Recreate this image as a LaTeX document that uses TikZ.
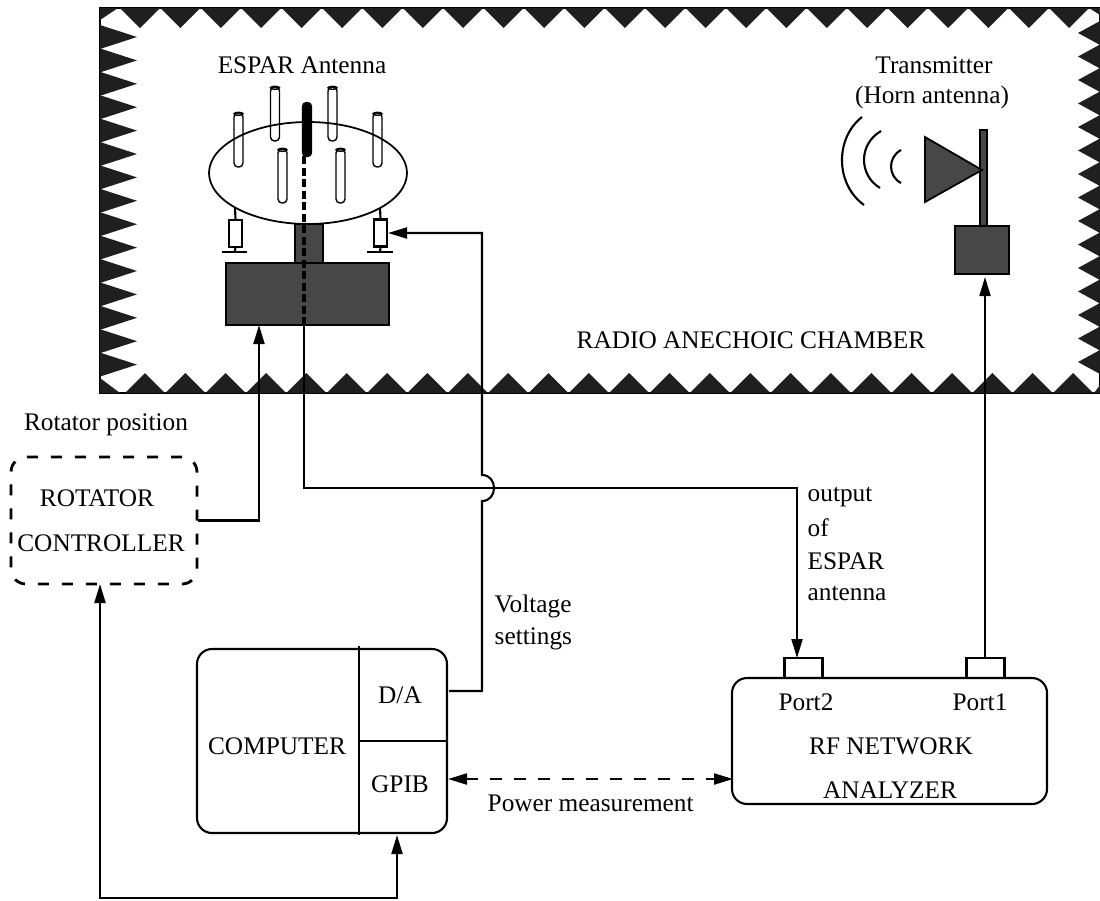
\documentclass[tikz,border=0pt]{standalone}
\usepackage{fontspec}
\setmainfont{Liberation Serif}
\usetikzlibrary{shapes.geometric,arrows.meta,calc}

\begin{document}
\begin{tikzpicture}[
    y=-1cm,
    every node/.style={inner sep=0pt, font=\fontsize{7.2}{9}\selectfont},
    rbox/.style={rectangle, draw=black, line width=0.6pt, rounded corners=0.15cm},
    dashbox/.style={rbox, line width=0.8pt, dash pattern=on 0.11cm off 0.13cm},
    port/.style={rectangle, draw=black, line width=0.6pt, minimum width=0.38cm, minimum height=0.2cm},
    dark/.style={rectangle, draw=black, fill=black!72, line width=0.5pt},
    resistor/.style={rectangle, draw=black, line width=0.6pt, minimum width=0.13cm, minimum height=0.27cm},
    rodbox/.style={rectangle, draw=black, line width=0.4pt, rounded corners=0.04cm, minimum width=0.09cm, minimum height=0.54cm},
    tooth/.style={fill=black!88},
    lin/.style={line width=0.6pt},
    arr/.style={-{Triangle[length=0.19cm,width=0.11cm]}, line width=0.6pt},
    arrb/.style={{Triangle[length=0.19cm,width=0.11cm]}-{Triangle[length=0.19cm,width=0.11cm]}, line width=0.6pt},
  ]
    \useasboundingbox (0,0) rectangle (11,9);

    % --- Chamber ---
    \node[rectangle, draw=black, line width=0.5pt, minimum width=10cm, minimum height=3.85cm] (chamber) at (6.0,2.005) {};
    \foreach \i in {0,...,23} {
      \fill[tooth] ({1.20+\i*0.404},0.08) -- ({1.40+\i*0.404},0.28) -- ({1.60+\i*0.404},0.08) -- cycle;
      \fill[tooth] ({1.25+\i*0.4035},3.93) -- ({1.45+\i*0.4035},3.73) -- ({1.65+\i*0.4035},3.93) -- cycle;
    }
    \foreach \i in {0,...,14} {
      \fill[tooth] (1.00,{0.25+\i*0.234}) -- (1.37,{0.37+\i*0.234}) -- (1.00,{0.49+\i*0.234}) -- cycle;
      \fill[tooth] (11.00,{0.21+\i*0.235}) -- (10.78,{0.33+\i*0.235}) -- (11.00,{0.45+\i*0.235}) -- cycle;
    }
    % corners
    \fill[tooth] (1.00,0.08) -- (1.18,0.08) -- (1.00,0.20) -- cycle;
    \fill[tooth] (10.89,0.08) -- (11.00,0.08) -- (11.00,0.15) -- cycle;
    \fill[tooth] (1.00,3.78) -- (1.20,3.93) -- (1.00,3.93) -- cycle;
    \fill[tooth] (10.94,3.93) -- (11.00,3.85) -- (11.00,3.93) -- cycle;
    \node (chambertxt) at (7.51,3.40) {RADIO ANECHOIC CHAMBER};

    % --- ESPAR antenna ---
    \node (espartxt) at (3.02,0.65) {ESPAR Antenna};
    \node[ellipse, draw=black, line width=0.5pt, minimum width=1.98cm, minimum height=1.02cm] (disc) at (3.08,1.73) {};
    \foreach \rx/\ry [count=\ri] in {2.385/1.40, 2.75/1.14, 3.325/1.14, 3.775/1.40, 2.825/1.76, 3.405/1.76} {
      \node[rodbox] (rod\ri) at (\rx,\ry) {};
      \draw[line width=0.4pt] ($(rod\ri.north)+(0,0.015)$) ellipse [x radius=0.045cm, y radius=0.015cm];
    }
    \node[rodbox, fill=black] (rodc) at (3.07,1.295) {};

    \node[dark, minimum width=0.28cm, minimum height=0.39cm] (neck) at (3.09,2.435) {};
    \node[dark, minimum width=1.63cm, minimum height=0.62cm] (antbase) at (3.075,2.94) {};

    % Resistors
    \node[resistor] (resl) at (2.355,2.335) {};
    \node[resistor] (resr) at (3.805,2.33) {};
    \coordinate (gndl) at (2.345,2.52);
    \coordinate (gndr) at (3.80,2.52);
    \draw[lin] (2.35,2.08) -- (resl.north);
    \draw[lin] (3.80,2.08) -- (resr.north);
    \draw[lin] (resl.south) -- (gndl);
    \draw[lin] (resr.south) -- (gndr);
    \draw[lin] (2.22,2.52) -- (2.47,2.52);
    \draw[lin] (3.67,2.52) -- (3.93,2.52);

    % --- Transmitter ---
    \node (xmittxt) at (9.34,0.65) {Transmitter};
    \node (horntxt) at (9.32,0.97) {(Horn antenna)};
    \node[dark, minimum width=0.07cm, minimum height=0.96cm] (mast) at (9.835,1.78) {};
    \node[dark, minimum width=0.54cm, minimum height=0.48cm] (xmitbox) at (9.82,2.50) {};
    \draw[fill=black!72, line width=0.5pt] (9.25,1.37) -- (9.82,1.70) -- (9.25,2.02) -- cycle;
    \draw[lin] (8.62,1.17) .. controls (8.35,1.38) and (8.35,1.84) .. (8.64,2.05);
    \draw[lin] (8.81,1.31) .. controls (8.585,1.44) and (8.585,1.75) .. (8.80,1.88);
    \draw[lin] (9.01,1.50) .. controls (8.877,1.57) and (8.877,1.76) .. (9.01,1.83);

    % --- Lower boxes ---
    \node[rbox, dashbox, minimum width=1.86cm, minimum height=1.27cm, align=center] (rotctrl) at (1.04,5.205) {ROTATOR\hspace*{0.14cm}\\[0.13cm]CONTROLLER\hspace*{0.06cm}};
    \node (rottxt) at (1.06,4.25) {Rotator position};

    \node[rbox, minimum width=2.5cm, minimum height=1.84cm] (computer) at (3.22,7.41) {};
    \node (comptxt) at (2.77,7.46) {COMPUTER};
    \node (datxt) at (4.00,6.95) {D/A};
    \node (gpibtxt) at (4.00,7.84) {GPIB};
    \draw[lin] (3.59,6.46) -- (3.59,8.35);
    \draw[lin] (3.59,7.41) -- (4.47,7.41);

    \node[rbox, minimum width=3.15cm, minimum height=1.26cm] (analyzer) at (8.895,7.41) {};
    \node[port] (port2) at (8.035,6.68) {};
    \node[port] (port1) at (9.855,6.68) {};
    \node (p2txt) at (8.06,7.02) {Port2};
    \node (p1txt) at (9.80,7.02) {Port1};
    \node (rftxt) at (8.91,7.46) {RF NETWORK};
    \node (antxt) at (8.90,7.90) {ANALYZER};

    % --- Connections ---
    \coordinate (feedtop) at (3.04,1.56);
    \coordinate (feedbot) at (3.04,3.25);
    \draw[line width=0.9pt, dash pattern=on 0.08cm off 0.035cm] (feedtop) -- (feedbot);
    \coordinate (p2in) at (7.97,6.58);
    \draw[arr] (feedbot) -- (3.04,4.88) -| (p2in);

    \coordinate (rotin) at (2.59,3.25);
    \draw[arr] (rotctrl.east) -| (rotin);

    \coordinate (daout) at (4.49,6.91);
    \draw[arr] (daout) -- (4.82,6.91) -- (4.82,5.01) .. controls (4.98,5.01) and (4.98,4.75) .. (4.82,4.75) -- (4.82,2.33) -- (resr.east);

    \coordinate (p1out) at (9.85,6.58);
    \coordinate (xmitin) at (9.85,2.77);
    \draw[arr] (p1out) -- (xmitin);

    \coordinate (rotlow) at (1.00,5.84);
    \coordinate (gpibin) at (3.97,8.35);
    \draw[arrb] (rotlow) -- ++(0,3.14) -| (gpibin);

    \coordinate (pwrl) at (4.48,7.79);
    \coordinate (pwrr) at (7.33,7.79);
    \draw[arrb, dash pattern=on 0.12cm off 0.12cm] (pwrl) -- (pwrr);

    % --- Labels ---
    \node[anchor=west] (volt) at (4.94,6.06) {Voltage};
    \node[anchor=west] (sett) at (4.94,6.39) {settings};
    \node[anchor=west] (pwrtxt) at (4.87,8.03) {Power measurement};
    \node[anchor=west] (out1) at (8.07,4.97) {output};
    \node[anchor=west] (out2) at (8.07,5.28) {of};
    \node[anchor=west] (out3) at (8.07,5.61) {ESPAR};
    \node[anchor=west] (out4) at (8.07,5.93) {antenna};

  \end{tikzpicture}
\end{document}
